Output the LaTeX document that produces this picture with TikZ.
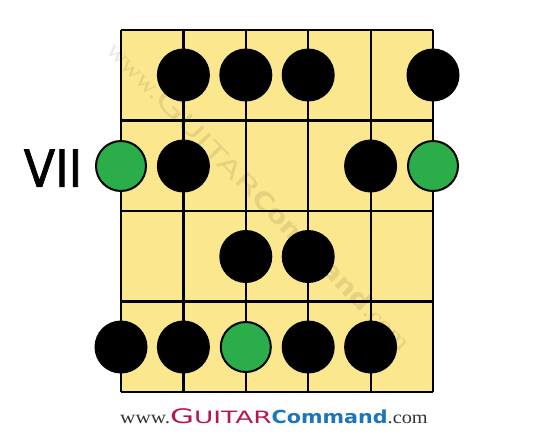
\documentclass[tikz,border=0pt]{standalone}
\usepackage{fontspec}
\usepackage{graphicx}
\setmainfont{Liberation Serif}
\newfontfamily\djv{DejaVu Sans}
\newfontfamily\djvfb[FakeBold=1.6]{DejaVu Sans}
\definecolor{fretfill}{HTML}{FBE78D}
\definecolor{dotgreen}{HTML}{2BAE4A}
\definecolor{gcred}{HTML}{B5174F}
\definecolor{gcblue}{HTML}{1B75BC}
\definecolor{gcgrey}{HTML}{333333}
\newcommand\gclogo[3]{%
  {\color{#1}\fontsize{18}{18}\selectfont\scalebox{1.18}[1]{www.}}%
  {\color{#2}\djv\scalebox{1.55}[1]{\fontsize{20}{20}\selectfont G\fontsize{17}{17}\selectfont UITAR}}%
  {\color{#3}\djv\bfseries\fontsize{18}{18}\selectfont\scalebox{1.15}[1]{Command}}%
  {\color{#1}\fontsize{18}{18}\selectfont\scalebox{1.13}[1]{.com}}}
\begin{document}
\begin{tikzpicture}[x=1pt,y=-1pt,
  gridline/.style={line width=2.2pt, black},
  blackdot/.style={circle, fill=black, minimum size=53pt, inner sep=0pt},
  greendot/.style={circle, fill=dotgreen, draw=black, line width=2pt, minimum size=50pt, inner sep=0pt}]
\useasboundingbox (0,0) rectangle (550,448);
% fretboard
\fill[fretfill] (121,30) rectangle (433,392);
% watermark
\node[rotate=-45.5, inner sep=0pt, opacity=0.09] (watermark) at (260,195)
  {\scalebox{1.37}{\gclogo{black}{black}{black}}};
% strings
\foreach \i in {0,...,5}
  \draw[gridline] ({121+62.4*\i},30) -- ({121+62.4*\i},392);
% frets
\foreach \y in {30,120.5,211,301.5,392}
  \draw[gridline] (121,\y) -- (433,\y);
% row 1
\node[blackdot] (a2) at (183.4,75) {};
\node[blackdot] (a3) at (245.8,75) {};
\node[blackdot] (a4) at (308.2,75) {};
\node[blackdot] (a6) at (433,75) {};
% row 2
\node[greendot] (b1) at (121,166) {};
\node[blackdot] (b2) at (183.4,166) {};
\node[blackdot] (b5) at (370.6,166) {};
\node[greendot] (b6) at (433,166) {};
% row 3
\node[blackdot] (c3) at (245.8,256.5) {};
\node[blackdot] (c4) at (308.2,256.5) {};
% row 4
\node[blackdot] (d1) at (121,347) {};
\node[blackdot] (d2) at (183.4,347) {};
\node[greendot] (d3) at (245.8,347) {};
\node[blackdot] (d4) at (308.2,347) {};
\node[blackdot] (d5) at (370.6,347) {};
% fret label
\node[inner sep=0pt, font=\djvfb\fontsize{51}{51}\selectfont] (fretlabel) at (53,168) {\scalebox{0.9}[1]{VII}};
% footer
\node[anchor=base west, inner sep=0pt] (footer) at (120,423) {\gclogo{gcgrey}{gcred}{gcblue}};
\end{tikzpicture}
\end{document}
